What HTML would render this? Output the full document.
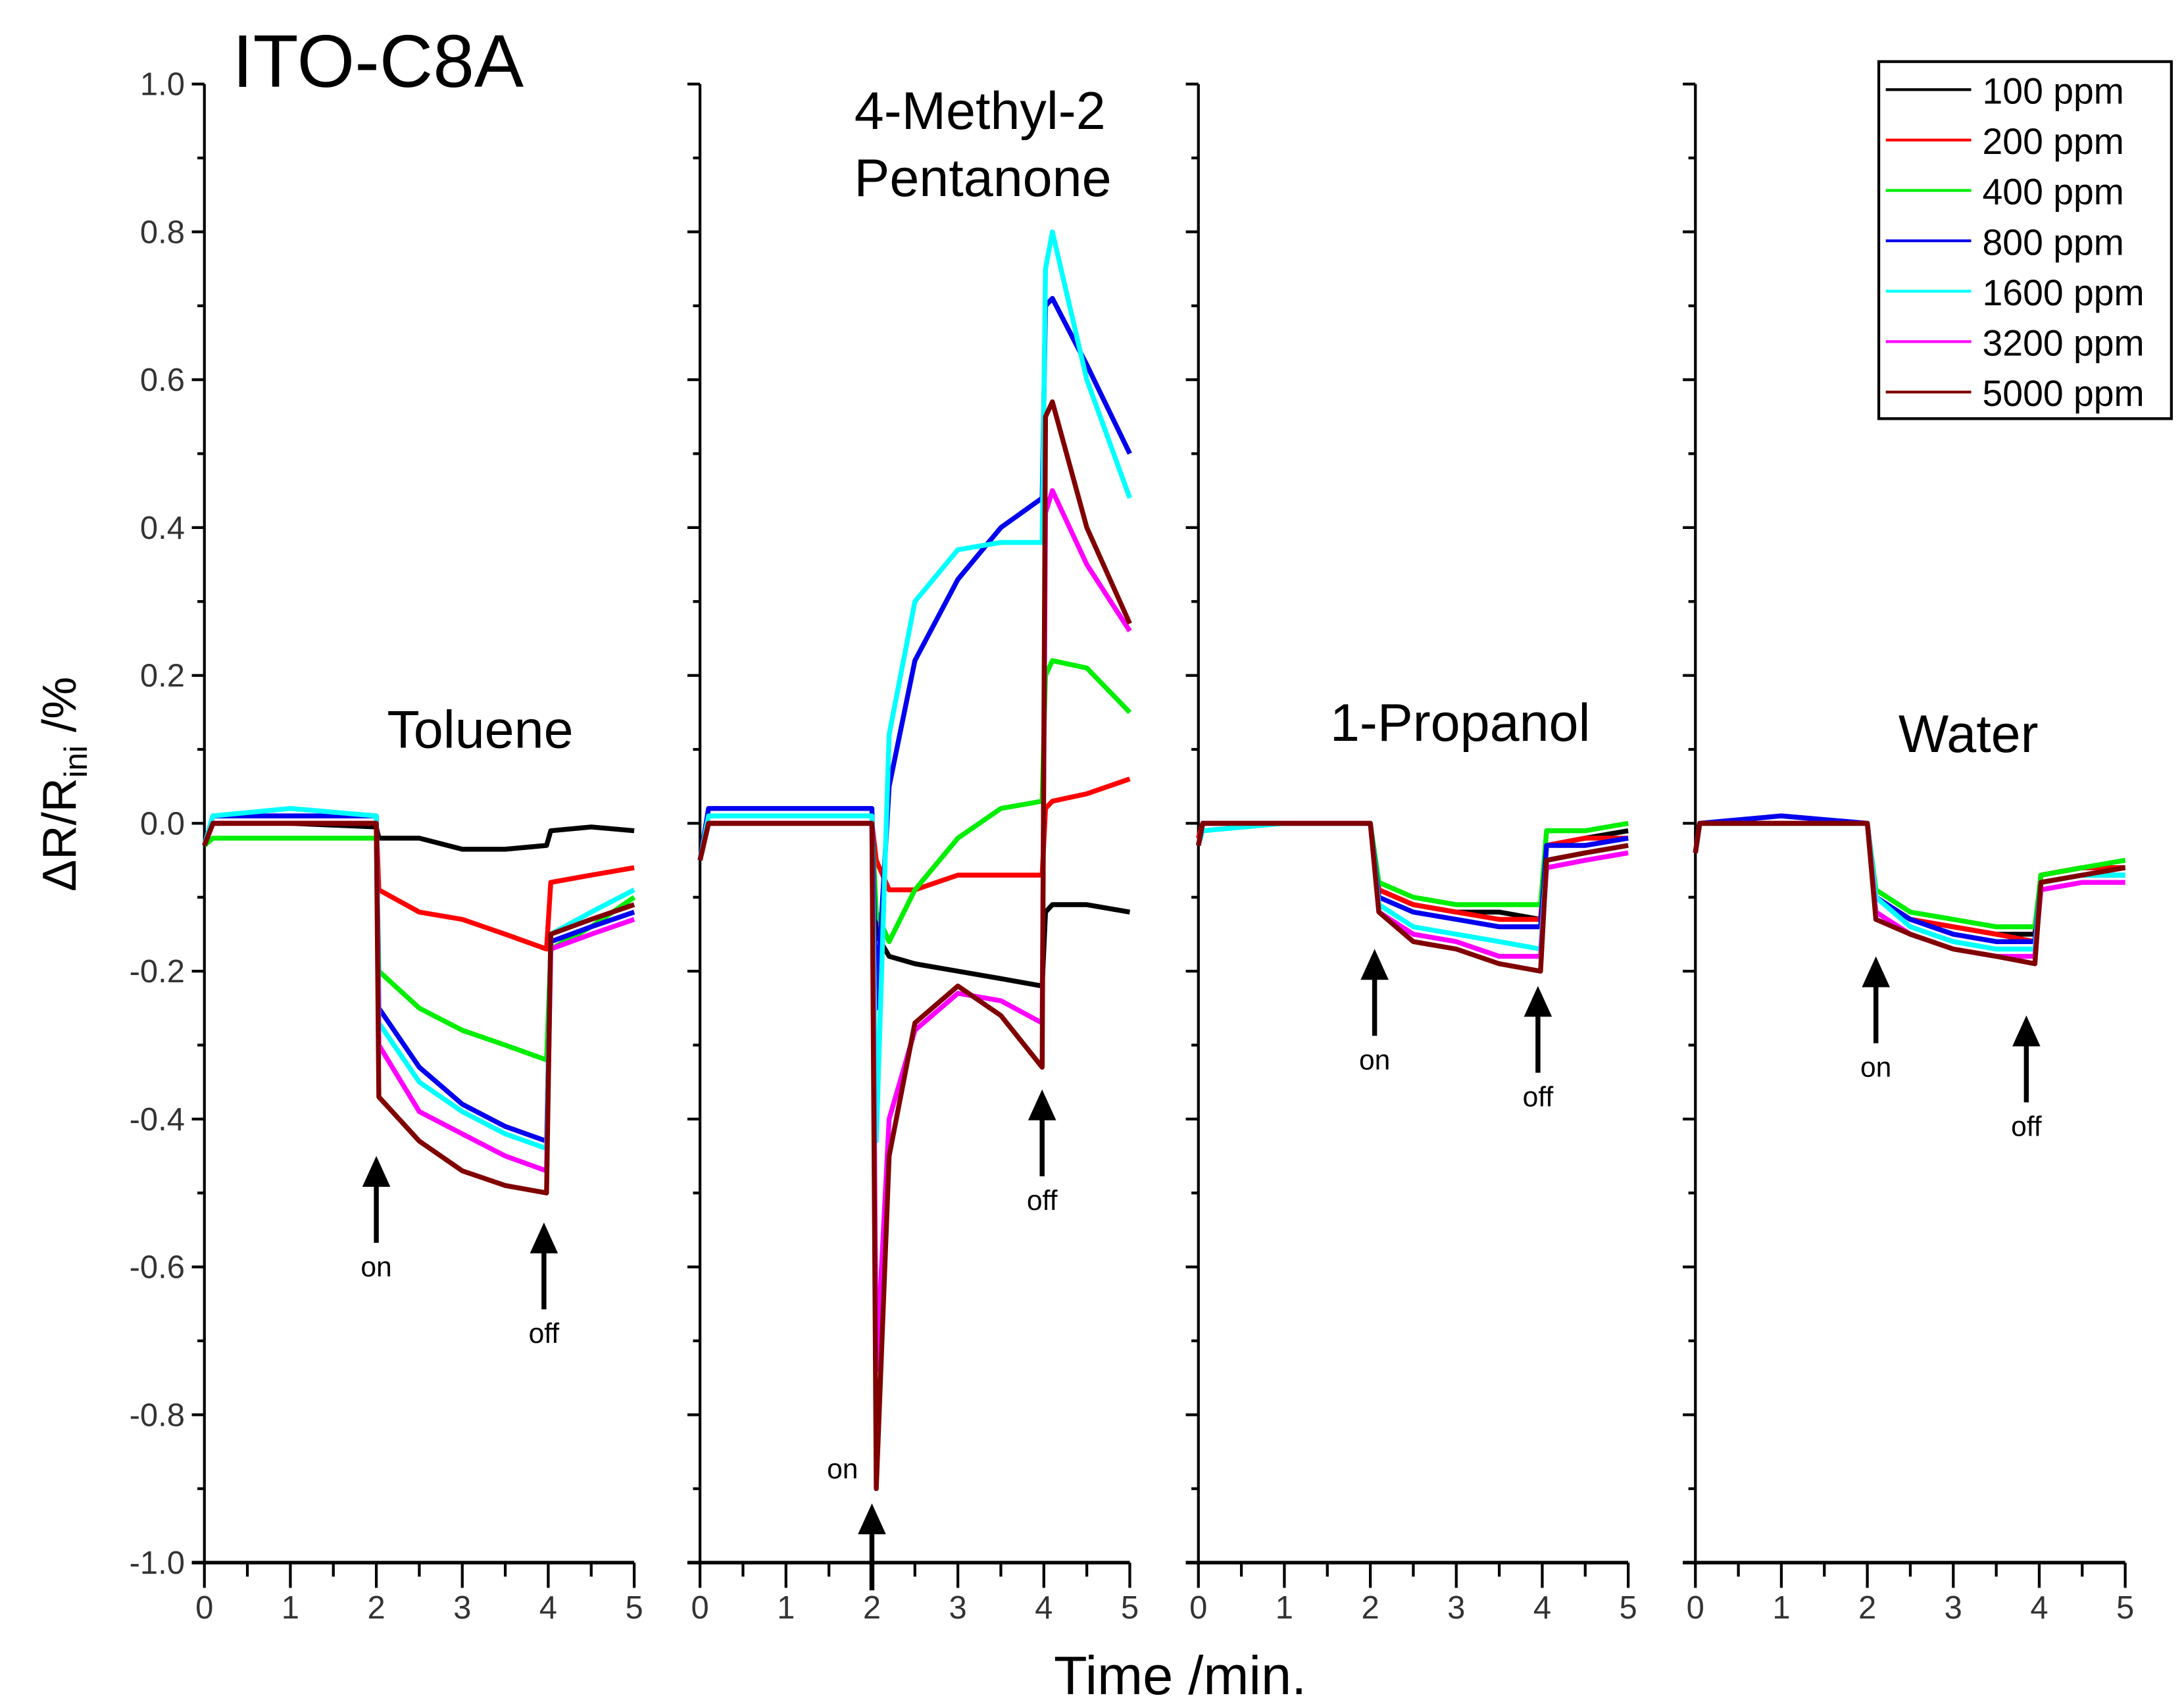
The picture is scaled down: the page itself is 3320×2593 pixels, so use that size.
<!DOCTYPE html>
<html><head><meta charset="utf-8"><style>
html,body{margin:0;padding:0;background:#fff;}
svg{display:block;}
text{font-family:"Liberation Sans",sans-serif;}
</style></head><body>
<svg id="chart" width="3320" height="2593" viewBox="0 0 1560 1218.4" preserveAspectRatio="none" xmlns="http://www.w3.org/2000/svg">
<text x="166" y="62" font-size="53" fill="#000">ITO-C8A</text>
<text x="843" y="1210" font-size="39" text-anchor="middle" fill="#000">Time /min.</text>
<text transform="translate(54,560) rotate(-90)" font-size="34" text-anchor="middle" fill="#000">ΔR/R<tspan font-size="23" dy="8">ini</tspan><tspan dy="-8"> /%</tspan></text>
<g id="panels"></g>
<g id="legend"></g>
</svg>
<script>
const concentrations = ["100 ppm","200 ppm","400 ppm","800 ppm","1600 ppm","3200 ppm","5000 ppm"];
const colors = ["#000000","#ff0000","#00ee00","#0000ee","#00ffff","#ff00ff","#800000"];
const panelNames = ["Toluene","4-Methyl-2 Pentanone","1-Propanol","Water"];
const yTicks = [1.0,0.8,0.6,0.4,0.2,0.0,-0.2,-0.4,-0.6,-0.8,-1.0];
const xTicks = [0,1,2,3,4,5];

const toluTimes = [0,0.1,1,2,2.03,2.5,3,3.5,3.98,4.03,4.5,5];
const toluVals = [
 [-0.03,0,0,-0.005,-0.02,-0.02,-0.035,-0.035,-0.03,-0.01,-0.005,-0.01],
 [-0.03,0,0,0,-0.09,-0.12,-0.13,-0.15,-0.17,-0.08,-0.07,-0.06],
 [-0.03,-0.02,-0.02,-0.02,-0.2,-0.25,-0.28,-0.3,-0.32,-0.17,-0.14,-0.1],
 [-0.03,0.01,0.01,0.01,-0.25,-0.33,-0.38,-0.41,-0.43,-0.16,-0.14,-0.12],
 [-0.03,0.01,0.02,0.01,-0.27,-0.35,-0.39,-0.42,-0.44,-0.15,-0.12,-0.09],
 [-0.03,0,0,0,-0.3,-0.39,-0.42,-0.45,-0.47,-0.17,-0.15,-0.13],
 [-0.03,0,0,0,-0.37,-0.43,-0.47,-0.49,-0.5,-0.15,-0.13,-0.11]
];
const mpTimes = [0,0.1,1,2,2.05,2.2,2.5,3,3.5,3.98,4.02,4.1,4.5,5];
const mpVals = [
 [-0.05,0,0,0,-0.15,-0.18,-0.19,-0.2,-0.21,-0.22,-0.12,-0.11,-0.11,-0.12],
 [-0.05,0,0,0,-0.05,-0.09,-0.09,-0.07,-0.07,-0.07,0.02,0.03,0.04,0.06],
 [-0.05,0,0,0,-0.12,-0.16,-0.09,-0.02,0.02,0.03,0.2,0.22,0.21,0.15],
 [-0.05,0.02,0.02,0.02,-0.25,0.05,0.22,0.33,0.4,0.44,0.7,0.71,0.62,0.5],
 [-0.05,0.01,0.01,0.01,-0.43,0.12,0.3,0.37,0.38,0.38,0.75,0.8,0.6,0.44],
 [-0.05,0,0,0,-0.74,-0.4,-0.28,-0.23,-0.24,-0.27,0.42,0.45,0.35,0.26],
 [-0.05,0,0,0,-0.9,-0.45,-0.27,-0.22,-0.26,-0.33,0.55,0.57,0.4,0.27]
];
const propTimes = [0,0.05,1,2,2.1,2.5,3,3.5,3.98,4.05,4.5,5];
const propVals = [
 [-0.02,0,0,0,-0.09,-0.11,-0.12,-0.12,-0.13,-0.03,-0.02,-0.01],
 [-0.02,0,0,0,-0.09,-0.11,-0.12,-0.13,-0.13,-0.03,-0.02,-0.02],
 [-0.03,0,0,0,-0.08,-0.1,-0.11,-0.11,-0.11,-0.01,-0.01,0],
 [-0.03,0,0,0,-0.1,-0.12,-0.13,-0.14,-0.14,-0.03,-0.03,-0.02],
 [-0.03,-0.01,0,0,-0.11,-0.14,-0.15,-0.16,-0.17,-0.05,-0.04,-0.03],
 [-0.03,0,0,0,-0.12,-0.15,-0.16,-0.18,-0.18,-0.06,-0.05,-0.04],
 [-0.03,0,0,0,-0.12,-0.16,-0.17,-0.19,-0.2,-0.05,-0.04,-0.03]
];
const waterTimes = [0,0.05,1,2,2.1,2.5,3,3.5,3.95,4.02,4.5,5];
const waterVals = [
 [-0.04,0,0,0,-0.1,-0.13,-0.14,-0.15,-0.15,-0.07,-0.06,-0.06],
 [-0.04,0,0,0,-0.1,-0.13,-0.14,-0.15,-0.16,-0.07,-0.06,-0.06],
 [-0.04,0,0,0,-0.09,-0.12,-0.13,-0.14,-0.14,-0.07,-0.06,-0.05],
 [-0.04,0,0.01,0,-0.1,-0.13,-0.15,-0.16,-0.16,-0.08,-0.07,-0.07],
 [-0.04,0,0,0,-0.1,-0.14,-0.16,-0.17,-0.17,-0.08,-0.07,-0.07],
 [-0.04,0,0,0,-0.12,-0.15,-0.17,-0.18,-0.18,-0.09,-0.08,-0.08],
 [-0.04,0,0,0,-0.13,-0.15,-0.17,-0.18,-0.19,-0.08,-0.07,-0.06]
];
const panelTimes = [toluTimes, mpTimes, propTimes, waterTimes];
const panelVals = [toluVals, mpVals, propVals, waterVals];
const arrowOn = [[2.0,-0.45],[2.0,-0.92],[2.05,-0.17],[2.1,-0.18]];
const arrowOff = [[3.95,-0.54],[3.98,-0.36],[3.95,-0.22],[3.85,-0.26]];

const NS = "http://www.w3.org/2000/svg";
const panelX0 = [146,500,856,1211];
const panelW = 307;
const yTop = 60, yBot = 1116;
function yScale(v){ return yTop + (1.0 - v) / 2.0 * (yBot - yTop); }
function xScale(p,t){ return panelX0[p] + t / 5 * panelW; }
function mk(tag, attrs){ const e = document.createElementNS(NS, tag); for (const k in attrs) e.setAttribute(k, attrs[k]); return e; }

const root = document.getElementById('panels');
for (let p = 0; p < 4; p++) {
  const g = mk('g', {});
  
  
  root.appendChild(g);
  const x0 = panelX0[p], x1 = x0 + panelW;
  const ya = mk('line', {x1:x0, y1:yTop, x2:x0, y2:yBot, stroke:'#000', 'stroke-width':2});
  
  
  g.appendChild(ya);
  for (let i = 0; i <= 20; i++) {
    const v = 1.0 - i * 0.1;
    const y = yScale(v);
    const major = i % 2 === 0;
    const tk = mk('line', {x1:x0 - (major ? 9 : 5), y1:y, x2:x0, y2:y, stroke:'#000', 'stroke-width':2});
    
    
    g.appendChild(tk);
  }
  if (p === 0) {
    yTicks.forEach(v => {
      const t = mk('text', {x:x0 - 14, y:yScale(v) + 8, 'font-size':23, 'text-anchor':'end', fill:'#333'});
      
      
      t.textContent = v.toFixed(1);
      g.appendChild(t);
    });
  }
  const xa = mk('line', {x1:x0 - 9, y1:yBot, x2:x1, y2:yBot, stroke:'#000', 'stroke-width':2.5});
  
  
  g.appendChild(xa);
  for (let i = 0; i <= 10; i++) {
    const x = xScale(p, i * 0.5);
    const major = i % 2 === 0;
    const tk = mk('line', {x1:x, y1:yBot, x2:x, y2:yBot + (major ? 18 : 10), stroke:'#000', 'stroke-width':2});
    
    
    g.appendChild(tk);
  }
  xTicks.forEach(v => {
    const t = mk('text', {x:xScale(p, v), y:yBot + 40, 'font-size':23, 'text-anchor':'middle', fill:'#333'});
    
    
    t.textContent = v;
    g.appendChild(t);
  });
  const times = panelTimes[p];
  panelVals[p].forEach((vals, s) => {
    const pts = vals.map((v, i) => xScale(p, times[i]).toFixed(1) + ',' + yScale(v).toFixed(1)).join(' ');
    const pl = mk('polyline', {points:pts, fill:'none', stroke:colors[s], 'stroke-width':3.5, 'stroke-linejoin':'round'});
    
    
    g.appendChild(pl);
  });
  [[arrowOn[p], 'on'], [arrowOff[p], 'off']].forEach(([a, lab]) => {
    const x = xScale(p, a[0]), yt = yScale(a[1]);
    const ag = mk('g', {});
    
    
    ag.appendChild(mk('polygon', {points:`${x},${yt} ${x-10},${yt+22} ${x+10},${yt+22}`, fill:'#000'}));
    ag.appendChild(mk('line', {x1:x, y1:yt + 20, x2:x, y2:yt + 62, stroke:'#000', 'stroke-width':3.5}));
    const t = mk('text', {x:x, y:yt + 86, 'font-size':20, 'text-anchor':'middle', fill:'#000'});
    t.textContent = lab;
    if (p === 1 && lab === 'on') { t.setAttribute('x', x - 21); t.setAttribute('y', yt - 18); }
    ag.appendChild(t);
    g.appendChild(ag);
  });
}
const labels = [["Toluene",343,534],["4-Methyl-2",700,92],["Pentanone",702,140],["1-Propanol",1043,529],["Water",1406,537]];
labels.forEach(l => {
  const t = mk('text', {x:l[1], y:l[2], 'font-size':38, 'text-anchor':'middle', fill:'#000'});
  
  
  t.textContent = l[0];
  document.getElementById('chart').appendChild(t);
});
const lg = document.getElementById('legend');
lg.appendChild(mk('rect', {x:1342, y:44, width:209, height:255, fill:'#fff', stroke:'#000', 'stroke-width':2}));
concentrations.forEach((c, i) => {
  const y = 64 + i * 36;
  const e = mk('g', {});
  
  
  e.appendChild(mk('line', {x1:1347, y1:y, x2:1408, y2:y, stroke:colors[i], 'stroke-width':2}));
  const t = mk('text', {x:1416, y:y + 10, 'font-size':26, fill:'#000'});
  t.textContent = c;
  e.appendChild(t);
  lg.appendChild(e);
});
</script>
</body></html>
